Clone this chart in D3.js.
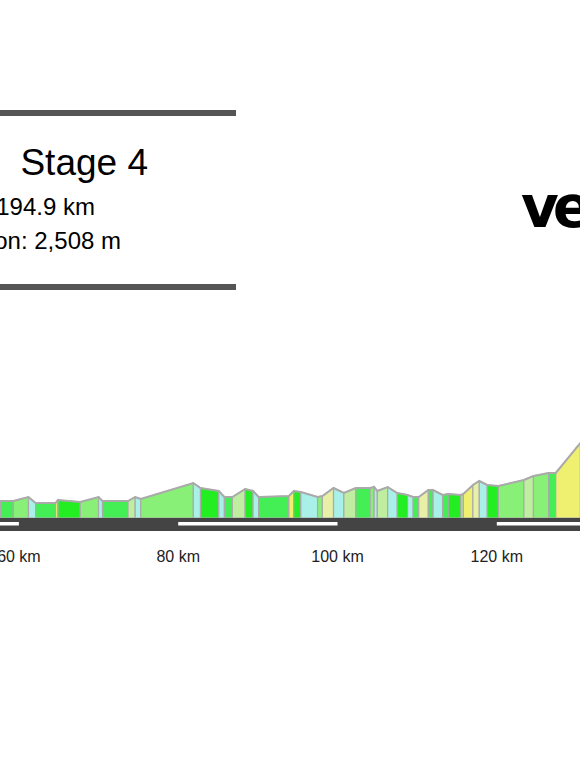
<!DOCTYPE html>
<html><head><meta charset="utf-8">
<script src="https://cdn.jsdelivr.net/npm/d3@7"></script>
<style>body{margin:0;background:#fff;overflow:hidden}</style>
</head><body>
<svg id="chart" width="580" height="773"></svg>
<script>
// profile points (km, metres)
var kms = [55,57.7,59.3,61.2,62.1,64.6,64.9,67.7,70.0,70.5,73.7,74.6,75.3,81.9,82.8,85.1,85.8,86.8,88.4,89.4,90.1,93.9,94.5,95.4,97.5,98.1,99.5,100.8,102.3,104.1,104.6,105.0,106.3,107.5,108.8,109.5,110.2,111.4,112.0,113.2,113.9,115.5,115.8,117.0,117.8,118.8,120.2,123.4,124.6,126.5,127.4,130.5,133.0];
var elev = [170,170,170,210,150,150,180,160,210,170,170,210,190,350,300,270,210,210,290,270,210,220,270,260,210,220,300,250,300,300,310,270,310,250,230,210,210,280,280,230,240,230,240,330,370,330,320,380,420,450,450,750,1080];
var tickKm = [60,80,100,120];
var dashKm = [[40,60],[80,100],[120,140]];

var svg = d3.select("#chart");
var x = d3.scaleLinear().domain([0,20]).range([-459,-459+159.3]);
var y = d3.scaleLinear().domain([0,1000]).range([518,418]);

var color = function(g){
  if (g < -2) return "#a8f0e8";
  if (g < 0) return "#22ee22";
  if (g < 1.5) return "#44ee55";
  if (g < 3) return "#88f077";
  if (g < 5) return "#c0eea0";
  if (g < 7) return "#e8f0a8";
  return "#f0f070";
};

// segments
for (var i = 0; i < kms.length-1; i++) {
  var g = (elev[i+1]-elev[i]) / ((kms[i+1]-kms[i])*1000) * 100;
  var pts = [[x(kms[i]),y(0)],[x(kms[i]),y(elev[i])],[x(kms[i+1]),y(elev[i+1])],[x(kms[i+1]),y(0)]];
  svg.append("path").attr("d", d3.line()(pts)+"Z")
    .attr("fill", color(g)).attr("stroke","#aaa").attr("stroke-width",1.2);
}
svg.append("path")
  .attr("d", d3.line().x(function(d,i){return x(kms[i]);}).y(function(d){return y(d);})(elev))
  .attr("fill","none").attr("stroke","#aaa").attr("stroke-width",2);

// road
svg.append("rect").attr("x",0).attr("y",518).attr("width",580).attr("height",13).attr("fill","#444");
dashKm.forEach(function(d){
  svg.append("rect").attr("x",x(d[0])).attr("y",522).attr("width",x(d[1])-x(d[0])).attr("height",3.5).attr("fill","#fff");
});
tickKm.forEach(function(k){
  svg.append("text").attr("x",x(k)).attr("y",562).attr("text-anchor","middle")
    .attr("font-family","Liberation Sans, Arial").attr("font-size",16).attr("fill","#222").text(k+" km");
});

// title box
svg.append("rect").attr("x",0).attr("y",110).attr("width",236).attr("height",6).attr("fill","#555");
svg.append("rect").attr("x",0).attr("y",284).attr("width",236).attr("height",6).attr("fill","#555");
var f = "Liberation Sans, Arial";
svg.append("text").attr("x",148).attr("y",175).attr("text-anchor","end").attr("font-family",f).attr("font-size",37).text("Stage 4");
svg.append("text").attr("x",95).attr("y",215).attr("text-anchor","end").attr("font-family",f).attr("font-size",24).text("Distance: 194.9 km");
svg.append("text").attr("x",121).attr("y",249).attr("text-anchor","end").attr("font-family",f).attr("font-size",24).text("Elevation: 2,508 m");

// logo
svg.append("text").attr("x",521).attr("y",227).attr("font-family","DejaVu Sans").attr("font-weight","bold")
  .attr("font-size",58).attr("letter-spacing",-6).text("velo");
</script>
</body></html>
